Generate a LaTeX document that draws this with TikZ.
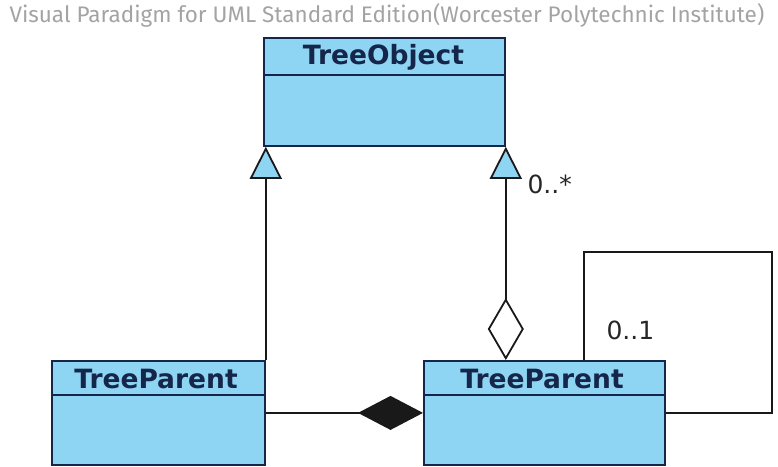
\documentclass[tikz,border=0pt]{standalone}
\usepackage{fontspec}
\setmainfont{Fira Sans}
\newfontfamily\classfont{DejaVu Sans}
\usetikzlibrary{arrows.meta}
\definecolor{umlblue}{HTML}{8DD5F3}
\definecolor{umlnavy}{HTML}{15264A}
\definecolor{wmgray}{HTML}{A3A3A3}
\tikzset{
  classbox/.style={draw=umlnavy, line width=1.8pt, fill=umlblue, anchor=north west, inner sep=0pt},
  classname/.style={text=umlnavy, font=\classfont\fontsize{26.5}{28}\selectfont\bfseries},
  mult/.style={text=black!85, font=\classfont\fontsize{25}{27}\selectfont},
  link/.style={draw=black!90, line width=1.8pt}
}
\begin{document}
\begin{tikzpicture}[x=1pt,y=-1pt]
\useasboundingbox (0,0) rectangle (778,466);

\node[anchor=west, text=wmgray, font=\fontsize{22.5}{24}\selectfont] (wm) at (6,15) {Visual Paradigm for UML Standard Edition(Worcester Polytechnic Institute)};

\node[classbox, minimum width=241pt, minimum height=108pt] (obj) at (263,37) {};
\draw[umlnavy, line width=1.8pt] (263,75) -- (504,75);
\node[classname] (objname) at (383.5,57) {TreeObject};

\node[classbox, minimum width=213pt, minimum height=104pt] (lp) at (51,360) {};
\draw[umlnavy, line width=1.8pt] (51,395) -- (264,395);
\node[classname] (lpname) at (156,379) {TreeParent};

\node[classbox, minimum width=241pt, minimum height=104pt] (rp) at (423,360) {};
\draw[umlnavy, line width=1.8pt] (423,395) -- (664,395);
\node[classname] (rpname) at (542,379) {TreeParent};

% generalization
\path[link, -{Triangle[width=32pt,length=32pt,fill=umlblue]}] (lp.north east) -- (lp.north east |- obj.south west);

% aggregation
\path[link, {Diamond[open,width=36pt,length=62pt]}-{Triangle[width=32pt,length=32pt,fill=umlblue]}] (rp.north -| obj.south east) -- (obj.south east);
\node[mult, anchor=west] (many) at (524,184) {0..*};

% composition
\path[link, -{Diamond[width=34pt,length=65pt]}] (lp.east) -- (rp.west);

% self association
\coordinate (selfa) at (584,360);
\coordinate (selfb) at (772,252);
\path[link] (selfa) |- (selfb) |- (rp.east);
\node[mult, anchor=west] (one) at (603,330) {0..1};
\end{tikzpicture}
\end{document}
